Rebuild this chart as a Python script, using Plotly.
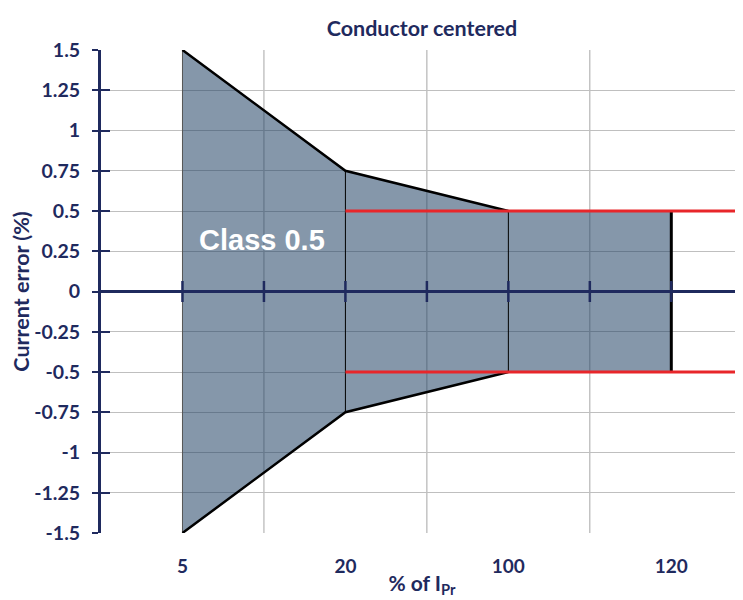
import plotly.graph_objects as go

# ---- data ----
categories = ["5", "20", "100", "120"]
upper_limit = [1.5, 0.75, 0.5, 0.5]
lower_limit = [-1.5, -0.75, -0.5, -0.5]
class_limit = 0.5
class_label = "Class 0.5"
y_tick_vals = [1.5, 1.25, 1, 0.75, 0.5, 0.25, 0, -0.25, -0.5, -0.75, -1, -1.25, -1.5]
y_tick_text = ["1.5", "1.25", "1", "0.75", "0.5", "0.25", "0", "-0.25", "-0.5", "-0.75", "-1", "-1.25", "-1.5"]

NAVY = "#1F2A5E"
FONT = "Lato"

n = len(categories)
xpos = [i + 0.5 for i in range(n)]           # category centres
x_max = 3.94                                  # visible right edge of plot
x_grid = [float(i) for i in range(1, n)]      # category dividers

bold = lambda s: f"<b>{s}</b>"

fig = go.Figure()

# envelope fill
fig.add_trace(go.Scatter(
    x=xpos + xpos[::-1], y=upper_limit + lower_limit[::-1],
    fill="toself", fillcolor="rgba(33,66,100,0.55)",
    line=dict(width=0), mode="lines", hoverinfo="skip", showlegend=False))

# vertical edges of envelope
edge_styles = [dict(color="#555555", width=1), dict(color="black", width=1),
               dict(color="black", width=1), dict(color="black", width=3)]
for xp, up, lo, st in zip(xpos, upper_limit, lower_limit, edge_styles):
    fig.add_trace(go.Scatter(x=[xp, xp], y=[lo, up], mode="lines", line=st,
                             hoverinfo="skip", showlegend=False))

# sloped limit lines (5 -> 20 -> 100)
fig.add_trace(go.Scatter(x=xpos[:3], y=upper_limit[:3], mode="lines",
                         line=dict(color="black", width=2.5), showlegend=False))
fig.add_trace(go.Scatter(x=xpos[:3], y=lower_limit[:3], mode="lines",
                         line=dict(color="black", width=2.5), showlegend=False))

# zero axis line with tick marks
fig.add_trace(go.Scatter(x=[0, x_max], y=[0, 0], mode="lines",
                         line=dict(color=NAVY, width=3), showlegend=False, hoverinfo="skip"))
zt = [0.5 * k for k in range(1, 2 * n)]
fig.add_trace(go.Scatter(x=zt, y=[0] * len(zt), mode="markers",
                         marker=dict(symbol="line-ns", size=15,
                                     line=dict(color=NAVY, width=2.5)),
                         showlegend=False, hoverinfo="skip"))

# class limit red lines
for v in (class_limit, -class_limit):
    fig.add_trace(go.Scatter(x=[xpos[1], x_max], y=[v, v], mode="lines",
                             line=dict(color="#E8262A", width=3),
                             showlegend=False, hoverinfo="skip"))

fig.add_annotation(x=0.99, y=0.32, xref="x", yref="y", text=bold(class_label),
                   showarrow=False,
                   font=dict(family="Liberation Sans", size=29, color="white"))

fig.update_layout(
    width=735, height=592,
    margin=dict(l=93, r=0, t=42, b=67),
    paper_bgcolor="white", plot_bgcolor="white",
    title=dict(text="<b>Conductor centered</b>", x=0.5, xref="paper",
               xanchor="center", y=0.966, yanchor="middle",
               font=dict(family=FONT, size=21.5, color=NAVY)),
    xaxis=dict(range=[0, x_max], tickvals=xpos, ticktext=[bold(c) for c in categories],
               ticks="outside", ticklen=16, tickcolor="rgba(0,0,0,0)",
               tickfont=dict(family=FONT, size=19, color=NAVY),
               showgrid=False, zeroline=False, showline=False, automargin=False,
               title=dict(text="<b>% of I<sub>Pr</sub></b>", standoff=0,
                          font=dict(family=FONT, size=21, color=NAVY))),
    yaxis=dict(range=[-1.5, 1.5], tickvals=y_tick_vals,
               ticktext=[bold(t) for t in y_tick_text],
               ticks="outside", ticklen=6, tickwidth=2, tickcolor=NAVY,
               ticklabelstandoff=8,
               tickfont=dict(family=FONT, size=19.5, color=NAVY),
               showgrid=True, gridcolor="#BFBFBF", gridwidth=1,
               zeroline=False, showline=True, linecolor=NAVY, linewidth=3,
               automargin=False,
               title=dict(text="<b>Current error (%)</b>", standoff=4,
                          font=dict(family=FONT, size=21.5, color=NAVY))),
    yaxis2=dict(range=[-1.5, 1.5], overlaying="y", side="left",
                tickvals=y_tick_vals, showticklabels=False,
                ticks="inside", ticklen=9, tickwidth=2, tickcolor=NAVY,
                showgrid=False, zeroline=False, showline=False, automargin=False),
)

# vertical category divider gridlines
for g in x_grid:
    fig.add_vline(x=g, line=dict(color="#A6A6A6", width=1), layer="below")

# dummy trace to activate yaxis2
fig.add_trace(go.Scatter(x=[None], y=[None], yaxis="y2", showlegend=False))

fig.write_html("out.html")
